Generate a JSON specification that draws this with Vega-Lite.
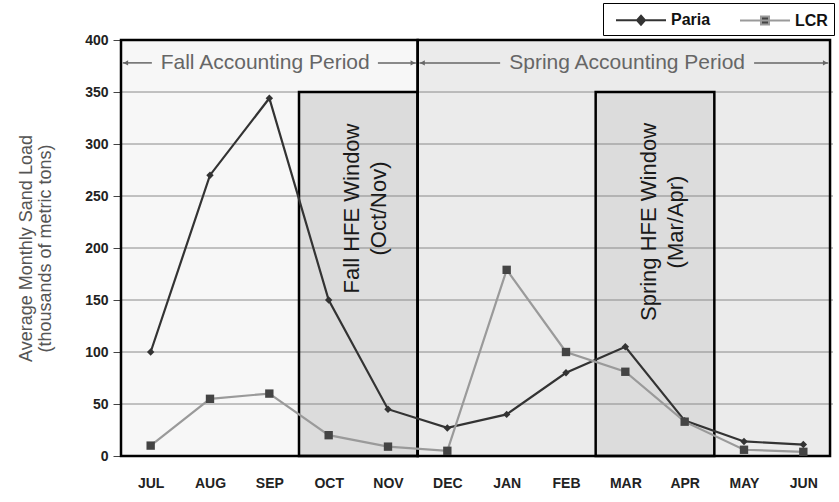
{
  "$schema": "https://vega.github.io/schema/vega-lite/v6.json",
  "width": 712,
  "height": 416,
  "autosize": "none",
  "padding": {"left": 121, "top": 40, "right": 6, "bottom": 46},
  "background": "#ffffff",
  "config": {
    "font": "Liberation Sans",
    "view": {"stroke": null}
  },
  "resolve": {"scale": {"shape": "independent", "size": "independent"}},
  "datasets": {
    "series": [
      {"m": 0, "month": "JUL", "series": "Paria", "load": 100},
      {"m": 1, "month": "AUG", "series": "Paria", "load": 270},
      {"m": 2, "month": "SEP", "series": "Paria", "load": 344},
      {"m": 3, "month": "OCT", "series": "Paria", "load": 150},
      {"m": 4, "month": "NOV", "series": "Paria", "load": 45},
      {"m": 5, "month": "DEC", "series": "Paria", "load": 27},
      {"m": 6, "month": "JAN", "series": "Paria", "load": 40},
      {"m": 7, "month": "FEB", "series": "Paria", "load": 80},
      {"m": 8, "month": "MAR", "series": "Paria", "load": 105},
      {"m": 9, "month": "APR", "series": "Paria", "load": 34},
      {"m": 10, "month": "MAY", "series": "Paria", "load": 14},
      {"m": 11, "month": "JUN", "series": "Paria", "load": 11},
      {"m": 0, "month": "JUL", "series": "LCR", "load": 10},
      {"m": 1, "month": "AUG", "series": "LCR", "load": 55},
      {"m": 2, "month": "SEP", "series": "LCR", "load": 60},
      {"m": 3, "month": "OCT", "series": "LCR", "load": 20},
      {"m": 4, "month": "NOV", "series": "LCR", "load": 9},
      {"m": 5, "month": "DEC", "series": "LCR", "load": 5},
      {"m": 6, "month": "JAN", "series": "LCR", "load": 179},
      {"m": 7, "month": "FEB", "series": "LCR", "load": 100},
      {"m": 8, "month": "MAR", "series": "LCR", "load": 81},
      {"m": 9, "month": "APR", "series": "LCR", "load": 33},
      {"m": 10, "month": "MAY", "series": "LCR", "load": 6},
      {"m": 11, "month": "JUN", "series": "LCR", "load": 4}
    ],
    "boxes": [
      {"kind": "fallperiod", "x1": -0.5, "x2": 4.5, "y1": 0, "y2": 400},
      {"kind": "springperiod", "x1": 4.5, "x2": 11.45, "y1": 0, "y2": 400},
      {"kind": "window", "x1": 2.5, "x2": 4.5, "y1": 0, "y2": 350},
      {"kind": "window", "x1": 7.5, "x2": 9.5, "y1": 0, "y2": 350}
    ],
    "grid": [{"y": 50}, {"y": 100}, {"y": 150}, {"y": 200}, {"y": 250}, {"y": 300}, {"y": 350}],
    "arrows": [
      {"x": -0.47, "x2": 0.02, "y": 378},
      {"x": 3.83, "x2": 4.47, "y": 378},
      {"x": 4.53, "x2": 5.89, "y": 378},
      {"x": 10.17, "x2": 11.42, "y": 378}
    ],
    "heads": [
      {"x": -0.42, "y": 378, "dir": "left"},
      {"x": 4.42, "y": 378, "dir": "right"},
      {"x": 4.58, "y": 378, "dir": "left"},
      {"x": 11.37, "y": 378, "dir": "right"}
    ],
    "periods": [
      {"x": 1.93, "y": 378, "label": "Fall Accounting Period"},
      {"x": 8.03, "y": 378, "label": "Spring Accounting Period"}
    ],
    "windows": [
      {"x": 3.5, "y": 238, "label": ["Fall  HFE  Window", "(Oct/Nov)"]},
      {"x": 8.5, "y": 225, "label": ["Spring  HFE  Window", "(Mar/Apr)"]}
    ]
  },
  "encoding": {},
  "layer": [
    {
      "data": {"name": "boxes"},
      "transform": [{"filter": "datum.kind === 'fallperiod'"}],
      "mark": {"type": "rect", "fill": "#f7f7f7"},
      "encoding": {
        "x": {"field": "x1", "type": "quantitative", "scale": {"domain": [-0.5, 11.5], "nice": false, "zero": false},
          "axis": {"values": [0,1,2,3,4,5,6,7,8,9,10,11], "labelExpr": "['JUL','AUG','SEP','OCT','NOV','DEC','JAN','FEB','MAR','APR','MAY','JUN'][datum.value]", "title": null, "grid": false, "ticks": false, "domain": false, "labelPadding": 20, "labelFontSize": 14, "labelFontWeight": "bold", "labelColor": "#222"}},
        "x2": {"field": "x2"},
        "y": {"field": "y1", "type": "quantitative", "scale": {"domain": [0, 400], "nice": false},
          "axis": {"values": [0,50,100,150,200,250,300,350,400], "grid": false, "domain": false, "tickSize": 8, "tickColor": "#444", "labelPadding": 5, "labelFontSize": 14, "labelFontWeight": "bold", "labelColor": "#222",
            "title": ["Average Monthly Sand Load", "(thousands of metric tons)"], "titleFontSize": 18, "titleFontWeight": "normal", "titleColor": "#555", "titleLineHeight": 19, "titlePadding": 30}},
        "y2": {"field": "y2"}
      }
    },
    {
      "data": {"name": "boxes"},
      "transform": [{"filter": "datum.kind === 'springperiod'"}],
      "mark": {"type": "rect", "fill": "#ebebeb"},
      "encoding": {
        "x": {"field": "x1", "type": "quantitative"},
        "x2": {"field": "x2"},
        "y": {"field": "y1", "type": "quantitative"},
        "y2": {"field": "y2"}
      }
    },
    {
      "data": {"name": "boxes"},
      "transform": [{"filter": "datum.kind === 'window'"}],
      "mark": {"type": "rect", "fill": "#dcdcdc"},
      "encoding": {
        "x": {"field": "x1", "type": "quantitative"},
        "x2": {"field": "x2"},
        "y": {"field": "y1", "type": "quantitative"},
        "y2": {"field": "y2"}
      }
    },
    {
      "data": {"name": "grid"},
      "mark": {"type": "rule", "color": "#8a8a8a", "strokeWidth": 1},
      "encoding": {"y": {"field": "y", "type": "quantitative"}}
    },
    {
      "data": {"name": "boxes"},
      "mark": {"type": "rect", "filled": false, "stroke": "#000", "strokeWidth": 2.5},
      "encoding": {
        "x": {"field": "x1", "type": "quantitative"},
        "x2": {"field": "x2"},
        "y": {"field": "y1", "type": "quantitative"},
        "y2": {"field": "y2"}
      }
    },
    {
      "data": {"name": "arrows"},
      "mark": {"type": "rule", "color": "#666", "strokeWidth": 1.5},
      "encoding": {
        "x": {"field": "x", "type": "quantitative"},
        "x2": {"field": "x2"},
        "y": {"field": "y", "type": "quantitative"}
      }
    },
    {
      "data": {"name": "heads"},
      "mark": {"type": "point", "filled": true, "color": "#666", "size": 30, "opacity": 1},
      "encoding": {
        "x": {"field": "x", "type": "quantitative"},
        "y": {"field": "y", "type": "quantitative"},
        "shape": {"field": "dir", "type": "nominal", "scale": {"domain": ["left", "right"], "range": ["triangle-left", "triangle-right"]}, "legend": null}
      }
    },
    {
      "data": {"name": "periods"},
      "mark": {"type": "text", "fontSize": 21, "color": "#666", "align": "center", "baseline": "middle"},
      "encoding": {
        "x": {"field": "x", "type": "quantitative"},
        "y": {"field": "y", "type": "quantitative"},
        "text": {"field": "label"}
      }
    },
    {
      "data": {"name": "windows"},
      "mark": {"type": "text", "fontSize": 22, "lineHeight": 27, "color": "#1a1a1a", "align": "center", "baseline": "middle", "angle": 270, "dy": -6},
      "encoding": {
        "x": {"field": "x", "type": "quantitative"},
        "y": {"field": "y", "type": "quantitative"},
        "text": {"field": "label"}
      }
    },
    {
      "data": {"name": "series"},
      "mark": {"type": "line", "strokeWidth": 2.2},
      "encoding": {
        "x": {"field": "m", "type": "quantitative"},
        "y": {"field": "load", "type": "quantitative"},
        "color": {"field": "series", "type": "nominal", "scale": {"domain": ["Paria", "LCR"], "range": ["#333333", "#9a9a9a"]},
          "legend": {"orient": "none", "legendX": 482, "legendY": -37, "direction": "horizontal", "title": null,
            "symbolSize": 400, "symbolStrokeWidth": 2, "labelFont": "Liberation Sans", "labelFontSize": 16, "labelFontWeight": "bold", "labelColor": "#111",
            "padding": 6, "strokeColor": "#000", "fillColor": "#fff", "labelOffset": 40, "columnPadding": 22,
            "encode": {"symbols": {"update": {
              "shape": {"signal": "datum.value === 'Paria' ? 'M-0.4,0H4.6M2.1,-0.45L2.5,0L2.1,0.45L1.7,0Z' : 'M-0.4,0H4.6M1.7,-0.4H2.5V0.4H1.7Z'"},
              "size": {"value": 400},
              "fill": {"value": "#222"},
              "stroke": {"signal": "datum.value === 'Paria' ? '#222' : '#999'"},
              "strokeWidth": {"value": 2}
            }}}}}
      }
    },
    {
      "data": {"name": "series"},
      "mark": {"type": "point", "filled": true, "opacity": 1},
      "encoding": {
        "x": {"field": "m", "type": "quantitative"},
        "y": {"field": "load", "type": "quantitative"},
        "shape": {"field": "series", "type": "nominal", "scale": {"domain": ["Paria", "LCR"], "range": ["diamond", "square"]}, "legend": null},
        "fill": {"field": "series", "type": "nominal", "scale": {"domain": ["Paria", "LCR"], "range": ["#333333", "#444444"]}, "legend": null},
        "size": {"field": "series", "type": "nominal", "scale": {"domain": ["Paria", "LCR"], "range": [55, 70]}, "legend": null}
      }
    }
  ]
}
